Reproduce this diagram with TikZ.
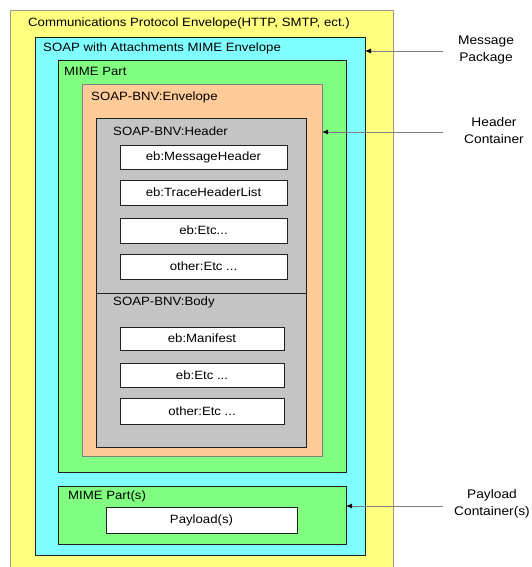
\documentclass[tikz,border=0pt]{standalone}
\usepackage{fontspec}
\setmainfont[FakeStretch=1.1]{Liberation Sans}
\usetikzlibrary{arrows.meta}
\definecolor{cyel}{HTML}{FFFF80}
\definecolor{ccya}{HTML}{80FFFF}
\definecolor{cgrn}{HTML}{80FF80}
\definecolor{corg}{HTML}{FFCC99}
\definecolor{cgry}{HTML}{C4C4C4}
\definecolor{cline}{HTML}{202020}
\begin{document}
\begin{tikzpicture}[x=1pt,y=-1pt,
  box/.style={draw=cline, line width=0.9pt, anchor=north west, inner sep=0pt, outer sep=0pt},
  wbox/.style={draw=cline, fill=white, line width=0.9pt, inner sep=0pt, outer sep=0pt, font=\fontsize{12}{14}\selectfont},
  lbl/.style={anchor=west, inner sep=0pt, font=\fontsize{12}{14}\selectfont},
  side/.style={align=center, inner sep=0pt, font=\fontsize{12.5}{17}\selectfont},
  arr/.style={draw=gray, line width=0.9pt, -{Latex[length=6pt,width=5pt,black]}}]
\useasboundingbox (0,0) rectangle (531,567);
% outer boxes
\node[box, draw=gray!80, fill=cyel, minimum width=383pt, minimum height=560pt] (yel) at (10,10) {};
\node[box, fill=ccya, minimum width=330pt, minimum height=518pt] (cya) at (35,37) {};
\node[box, fill=cgrn, minimum width=288pt, minimum height=412pt] (grn) at (58,60) {};
\node[box, draw=gray, fill=corg, minimum width=240pt, minimum height=372pt] (org) at (82,84) {};
\node[box, fill=cgry, minimum width=210pt, minimum height=329pt] (gry) at (96,118) {};
\draw[cline, line width=0.9pt] (gry.west |- 0,293) -- (gry.east |- 0,293);
\node[box, fill=cgrn, minimum width=288pt, minimum height=58pt] (pgrn) at (58,486) {};
% labels
\node[lbl] (tcom) at (28,23) {Communications Protocol Envelope(HTTP, SMTP, ect.)};
\node[lbl] (tsoap) at (43,48) {SOAP with Attachments MIME Envelope};
\node[lbl] (tmime) at (64,71) {MIME Part};
\node[lbl] (tenv) at (91,97) {SOAP-BNV:Envelope};
\node[lbl] (thdr) at (113,131) {SOAP-BNV:Header};
\node[lbl] (tbody) at (113,302) {SOAP-BNV:Body};
\node[lbl] (tparts) at (68,496) {MIME Part(s)};
% white boxes
\node[wbox, minimum width=167pt, minimum height=24pt] (h1) at (203.5,157) {eb:MessageHeader};
\node[wbox, minimum width=167pt, minimum height=25pt] (h2) at (203.5,192.5) {eb:TraceHeaderList};
\node[wbox, minimum width=167pt, minimum height=25pt] (h3) at (203.5,230.5) {eb:Etc...};
\node[wbox, minimum width=167pt, minimum height=25pt] (h4) at (203.5,266.5) {other:Etc ...};
\node[wbox, minimum width=164pt, minimum height=23pt] (b1) at (202,338.5) {eb:Manifest};
\node[wbox, minimum width=164pt, minimum height=24pt] (b2) at (202,375) {eb:Etc ...};
\node[wbox, minimum width=164pt, minimum height=26pt] (b3) at (202,411) {other:Etc ...};
\node[wbox, minimum width=191pt, minimum height=26pt] (pay) at (201.5,520) {Payload(s)};
% side labels
\node[side] (smsg) at (486,50) {Message\\Package};
\node[side] (shdr) at (494,131) {Header\\Container};
\node[side] (spay) at (492,504) {Payload\\Container(s)};
\coordinate (a1) at (443,51);
\coordinate (a2) at (443,132);
\coordinate (a3) at (443,506);
\draw[arr] (a1) -- (cya.east |- a1);
\draw[arr] (a2) -- (org.east |- a2);
\draw[arr] (a3) -- (pgrn.east |- a3);
\end{tikzpicture}
\end{document}
